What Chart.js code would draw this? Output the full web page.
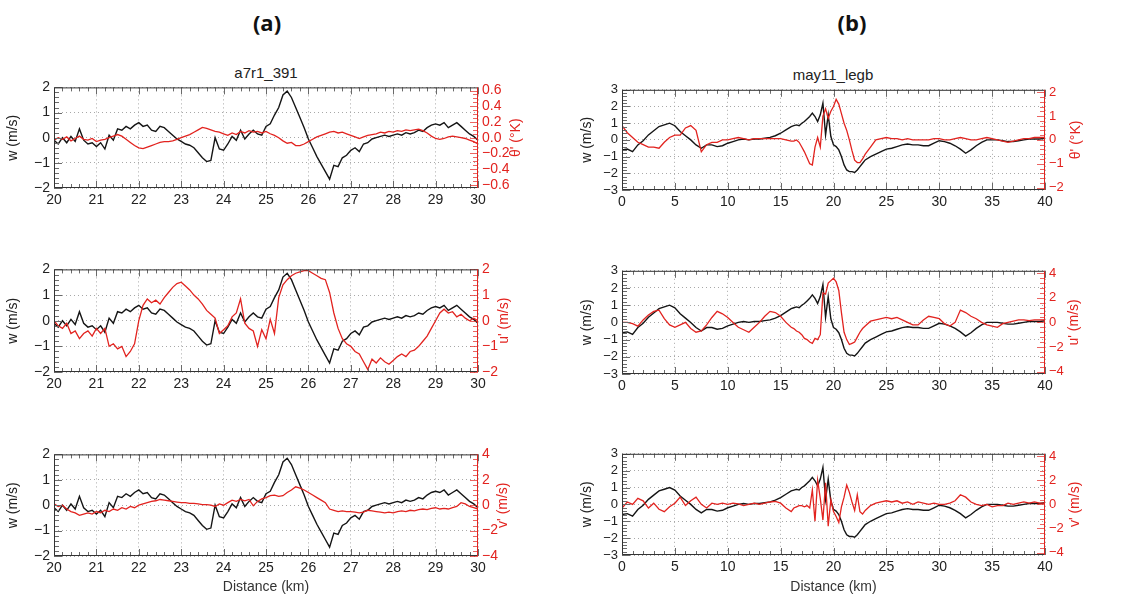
<!DOCTYPE html>
<html>
<head>
<meta charset="utf-8">
<script src="https://cdn.jsdelivr.net/npm/chart.js@4.4.1/dist/chart.umd.min.js"></script>
<style>
  body { margin: 0; width: 1133px; height: 598px; position: relative; overflow: hidden; background: #fff;
         font-family: "Liberation Sans", Arial, sans-serif; }
  canvas { position: absolute; }
  .lbl { position: absolute; transform: translateX(-50%); white-space: nowrap; color: #222; line-height: 18px; }
  .big { font-family: "Open Sans", sans-serif; font-weight: bold; font-size: 22px; line-height: 30px; color: #111; }
  .ttl { font-size: 15px; }
</style>
</head>
<body>
<div class="lbl big" style="left:267px;top:7px">(a)</div>
<div class="lbl big" style="left:852px;top:7px">(b)</div>
<div class="lbl ttl" style="left:266px;top:64px">a7r1_391</div>
<div class="lbl ttl" style="left:833px;top:66px">may11_legb</div>

<canvas id="a1"></canvas>
<canvas id="a2"></canvas>
<canvas id="a3"></canvas>
<canvas id="b1"></canvas>
<canvas id="b2"></canvas>
<canvas id="b3"></canvas>

<script>
// ---- (a) a7r1_391 : distance 20..30 km, one reading every 0.1 km
const distA = [];
for (let i = 0; i <= 100; i++) distA.push(20 + i / 10);

const wA = [-0.1,-0.25,0.0,-0.2,0.05,-0.15,0.35,-0.1,-0.25,-0.2,
  -0.35,-0.2,-0.45,0.1,-0.1,0.35,0.3,0.45,0.35,0.5,
  0.6,0.45,0.5,0.3,0.25,0.45,0.4,0.25,0.1,-0.05,
  -0.15,-0.25,-0.3,-0.4,-0.6,-0.8,-0.95,-0.9,0.0,-0.45,
  -0.5,-0.25,0.05,-0.1,0.3,-0.05,0.15,0.3,0.15,0.1,
  0.45,0.55,0.9,1.2,1.7,1.85,1.6,1.2,0.8,0.4,
  -0.05,-0.4,-0.75,-1.05,-1.35,-1.65,-1.1,-1.15,-0.8,-0.7,
  -0.5,-0.4,-0.55,-0.25,-0.2,-0.05,0.0,0.05,0.1,0.05,
  0.1,0.15,0.1,0.2,0.15,0.2,0.3,0.25,0.4,0.5,
  0.55,0.5,0.6,0.4,0.5,0.6,0.45,0.3,0.15,0.05,
  -0.1];

const thetaA = [-0.03,0.0,-0.02,0.01,-0.04,-0.01,0.02,-0.02,-0.03,-0.01,
  -0.05,-0.03,-0.02,0.0,0.02,0.04,0.02,-0.02,-0.06,-0.1,
  -0.13,-0.14,-0.12,-0.1,-0.08,-0.06,-0.05,-0.05,-0.04,-0.02,
  0.0,0.02,0.04,0.07,0.1,0.13,0.12,0.1,0.08,0.07,
  0.05,0.03,0.06,0.04,0.08,0.06,0.09,0.07,0.08,0.06,
  0.08,0.05,0.03,0.0,-0.04,-0.07,-0.06,-0.1,-0.1,-0.08,
  -0.05,-0.02,0.01,0.03,0.05,0.07,0.08,0.06,0.07,0.05,
  0.03,0.01,-0.01,0.01,0.03,0.04,0.05,0.07,0.06,0.08,
  0.07,0.09,0.08,0.1,0.09,0.1,0.11,0.09,0.06,0.02,
  -0.01,-0.02,-0.01,0.01,0.02,0.01,0.0,-0.01,-0.03,-0.05,
  -0.08];

const uA = [0.0,-0.2,-0.3,-0.1,-0.5,-0.4,-0.7,-0.5,-0.4,-0.6,
  -0.3,-0.5,-0.3,-1.0,-0.9,-1.1,-1.0,-1.4,-1.2,-0.9,
  0.0,0.6,0.85,0.7,0.8,0.65,0.9,1.1,1.3,1.45,
  1.5,1.35,1.2,1.0,0.85,0.65,0.4,0.25,0.1,-0.5,
  -0.35,-0.2,0.15,0.3,0.85,-0.1,-0.3,-0.4,-1.0,-0.35,
  -0.7,0.05,-0.5,0.9,1.4,1.6,1.75,1.85,1.9,1.95,
  1.95,1.85,1.75,1.65,1.6,1.1,0.3,-0.3,-0.7,-0.9,
  -1.0,-1.2,-1.3,-1.6,-1.9,-1.5,-1.65,-1.45,-1.6,-1.7,
  -1.55,-1.4,-1.3,-1.4,-1.2,-1.15,-1.0,-0.8,-0.6,-0.3,
  0.0,0.3,0.45,0.3,0.35,0.15,0.25,0.1,0.0,0.1,
  0.0];

const vA = [0.1,-0.1,0.0,-0.3,-0.5,-0.6,-0.8,-0.7,-0.6,-0.7,
  -0.5,-0.6,-0.4,-0.5,-0.3,-0.4,-0.2,-0.3,-0.1,-0.2,
  0.0,0.1,0.2,0.3,0.35,0.45,0.4,0.35,0.3,0.25,
  0.2,0.2,0.15,0.15,0.1,0.05,0.05,0.0,-0.1,0.1,
  0.0,0.2,0.4,0.3,0.45,0.35,0.45,-0.05,0.3,0.5,
  0.6,0.75,0.8,0.7,0.75,1.0,1.2,1.45,1.35,1.2,
  1.0,0.8,0.6,0.4,0.2,-0.3,-0.4,-0.5,-0.45,-0.5,
  -0.5,-0.55,-0.6,-0.55,-0.4,-0.45,-0.5,-0.55,-0.6,-0.55,
  -0.6,-0.5,-0.45,-0.5,-0.4,-0.45,-0.35,-0.3,-0.35,-0.25,
  -0.2,-0.3,-0.25,-0.3,-0.2,-0.1,0.2,0.1,-0.1,-0.2,
  -0.3];

// ---- (b) may11_legb : distance 0..40 km, denser readings round the jump near 20 km
const distB = [0,0.5,1,1.5,2,2.5,3,3.5,4,4.5,5,5.5,6,6.5,7,7.5,8,8.5,9,9.5,10,10.5,11,11.5,12,12.5,13,13.5,14,14.5,15,15.5,16,
  16.25,16.5,16.75,17,17.25,17.5,17.75,18,18.25,18.5,18.75,19,19.25,19.5,19.75,20,20.25,20.5,20.75,21,21.25,21.5,21.75,22,22.25,22.5,22.75,23,
  23.5,24,24.5,25,25.5,26,26.5,27,27.5,28,28.5,29,29.5,30,30.5,31,31.5,32,32.5,33,33.5,34,34.5,35,35.5,36,36.5,37,37.5,38,38.5,39,39.5,40];

const wB = [-0.6,-0.55,-0.7,-0.3,-0.05,0.3,0.55,0.8,0.9,1.0,0.85,0.5,0.25,0.0,-0.3,-0.5,-0.3,-0.3,-0.4,-0.35,-0.2,-0.1,0.0,0.05,0.0,0.05,0.05,0.1,0.15,0.25,0.4,0.6,0.8,
  0.85,0.9,0.85,1.0,1.1,1.25,1.4,1.6,1.4,1.1,1.5,2.2,0.3,1.5,0.2,-0.3,-0.4,-0.6,-1.0,-1.5,-1.8,-1.9,-1.9,-1.95,-1.8,-1.6,-1.4,-1.2,
  -1.0,-0.85,-0.7,-0.55,-0.5,-0.4,-0.3,-0.25,-0.3,-0.3,-0.35,-0.35,-0.2,-0.05,-0.1,-0.2,-0.35,-0.55,-0.8,-0.6,-0.35,-0.15,0.0,0.0,0.0,-0.05,-0.1,-0.1,-0.05,0.0,0.05,0.05,0.05,0.1];

const thetaB = [0.6,0.3,0.1,-0.1,-0.2,-0.3,-0.3,-0.35,-0.1,0.1,0.2,0.2,0.5,0.6,0.4,-0.5,-0.2,-0.1,-0.1,0.0,0.0,0.05,0.1,0.05,0.0,0.05,0.05,0.05,0.05,0.05,0.05,0.0,-0.05,
  -0.05,0.0,-0.1,-0.3,-0.5,-0.75,-1.0,-1.05,-0.3,0.1,-0.3,1.0,1.3,0.9,1.2,1.4,1.7,1.5,1.1,0.7,0.4,0.0,-0.45,-0.85,-0.95,-0.95,-0.8,-0.6,
  -0.3,0.0,0.05,0.1,0.05,0.05,0.0,0.05,0.0,0.0,0.0,0.0,0.05,0.05,0.0,0.0,0.05,0.1,0.05,0.0,0.0,0.05,0.1,0.05,0.0,-0.05,-0.1,-0.05,0.0,0.05,0.05,0.1,0.1,0.1];

const uB = [0.0,0.0,-0.1,-0.3,0.2,0.6,0.9,1.0,0.3,-0.2,-0.4,-0.2,0.0,-0.5,-0.8,-0.7,-0.2,0.4,0.9,0.7,0.4,0.0,-0.4,-0.6,-0.8,-0.4,0.0,0.5,0.9,0.8,0.5,0.0,-0.4,
  -0.5,-0.7,-0.8,-1.0,-1.3,-1.4,-1.6,-1.7,-1.3,-1.4,-1.0,2.4,2.3,3.2,3.4,3.6,3.3,2.6,0.8,-0.8,-1.4,-1.8,-1.7,-1.6,-1.2,-0.8,-0.5,-0.3,
  0.1,0.2,0.3,0.4,0.3,0.4,0.2,0.0,-0.2,-0.2,0.2,0.5,0.4,0.3,-0.1,-0.3,0.0,1.0,0.8,0.5,0.3,0.0,-0.2,-0.3,-0.4,-0.1,0.0,0.1,0.2,0.2,0.15,0.2,0.2,0.2];

const vB = [-0.3,0.2,0.0,0.5,0.3,-0.3,0.1,-0.4,-0.6,-0.2,0.1,0.6,-0.1,0.3,0.6,0.0,-0.3,0.1,0.0,0.1,0.0,0.1,0.05,-0.1,0.0,0.1,0.0,0.1,0.2,0.25,0.1,-0.3,-0.6,
  -0.3,-0.2,-0.1,-0.1,-0.2,-0.1,-0.3,1.2,-1.4,2.0,0.5,-1.3,1.8,-1.8,0.4,-0.6,-1.0,-1.5,-0.2,0.6,1.6,1.0,0.2,-0.5,0.8,-0.6,-0.8,-0.5,
  -0.1,0.1,0.2,0.3,0.2,0.3,0.1,0.2,0.0,0.2,0.1,0.0,0.1,0.0,0.0,0.1,0.3,0.8,0.6,0.2,0.0,-0.1,0.0,-0.2,-0.1,-0.1,0.1,0.0,0.1,0.2,0.1,0.2,0.1,0.1];

// ---- axis ticks
const xTicksA = [20,21,22,23,24,25,26,27,28,29,30];
const xTicksB = [0,5,10,15,20,25,30,35,40];
const wTicksA = [-2,-1,0,1,2];
const wTicksB = [-3,-2,-1,0,1,2,3];
const thetaTicksA = [-0.6,-0.4,-0.2,0,0.2,0.4,0.6];
const uTicksA = [-2,-1,0,1,2];
const v4Ticks = [-4,-2,0,2,4];
const thetaTicksB = [-2,-1,0,1,2];

const RED = '#e2231f';
const BLACK = '#151515';

Chart.defaults.font.family = '"Liberation Sans", Arial, sans-serif';

function fmtTick(dec) {
  return v => (dec ? v.toFixed(dec) : String(Math.round(v))).replace('-', '\u2212');
}

function stepValues(min, max, step) {
  const out = [];
  const start = Math.ceil(min / step - 1e-6);
  const end = Math.floor(max / step + 1e-6);
  for (let k = start; k <= end; k++) out.push(k * step);
  return out;
}

// IDL style frame: box, inward major/minor ticks, red right axis title
const framePlugin = {
  id: 'frame',
  afterDatasetsDraw(chart, args, opts) {
    const {ctx, chartArea: a} = chart;
    const sx = chart.scales.x, sy = chart.scales.y, sr = chart.scales.y1;
    const isMajor = (s, v) => s.ticks.some(t => Math.abs(t.value - v) < 1e-6);
    ctx.save();
    ctx.lineWidth = 1;

    ctx.strokeStyle = '#6a6a6a';
    ctx.beginPath();
    stepValues(sx.min, sx.max, opts.xMinor).forEach(v => {
      const p = Math.round(sx.getPixelForValue(v)) + 0.5;
      const len = isMajor(sx, v) ? 7 : 4;
      ctx.moveTo(p, a.bottom); ctx.lineTo(p, a.bottom - len);
      ctx.moveTo(p, a.top); ctx.lineTo(p, a.top + len);
    });
    stepValues(sy.min, sy.max, opts.yMinor).forEach(v => {
      const p = Math.round(sy.getPixelForValue(v)) + 0.5;
      const len = isMajor(sy, v) ? 8 : 5;
      ctx.moveTo(a.left, p); ctx.lineTo(a.left + len, p);
    });
    ctx.stroke();

    ctx.strokeStyle = 'rgba(226,35,31,0.7)';
    ctx.beginPath();
    stepValues(sr.min, sr.max, opts.rMinor).forEach(v => {
      const p = Math.round(sr.getPixelForValue(v)) + 0.5;
      const len = isMajor(sr, v) ? 8 : 5;
      ctx.moveTo(a.right, p); ctx.lineTo(a.right - len, p);
    });
    ctx.stroke();

    // box
    ctx.strokeStyle = '#333';
    ctx.beginPath();
    ctx.moveTo(a.right, a.top + 0.5); ctx.lineTo(a.left + 0.5, a.top + 0.5);
    ctx.lineTo(a.left + 0.5, a.bottom - 0.5); ctx.lineTo(a.right, a.bottom - 0.5);
    ctx.stroke();
    ctx.strokeStyle = RED;
    ctx.beginPath();
    ctx.moveTo(a.right - 0.5, a.top); ctx.lineTo(a.right - 0.5, a.bottom);
    ctx.stroke();

    // right axis title, read bottom to top like the left one
    ctx.translate(a.right + opts.rTitleGap, (a.top + a.bottom) / 2);
    ctx.rotate(-Math.PI / 2);
    ctx.font = '14px "Liberation Sans", Arial, sans-serif';
    ctx.fillStyle = RED;
    ctx.textAlign = 'center';
    ctx.textBaseline = 'middle';
    ctx.fillText(opts.rTitle, 0, 0);
    ctx.restore();
  }
};

const colA = { dist: distA, w: wA, xRange: [20, 30], xTicks: xTicksA, xMinor: 0.2,
  wRange: [-2, 2], wTicks: wTicksA, wMinor: 0.2, yFont: 14, yTitlePad: 5 };
const colB = { dist: distB, w: wB, xRange: [0, 40], xTicks: xTicksB, xMinor: 1,
  wRange: [-3, 3], wTicks: wTicksB, wMinor: 0.2, yFont: 13, yTitlePad: 19 };

const panels = [
  { id: 'a1', col: colA, box: {left: 0, top: 75, width: 560, height: 143, L: 54, R: 82, T: 10, B: 30},
    red: thetaA, rRange: [-0.64, 0.64], rTicks: thetaTicksA, rDec: 1, rMinor: 0.05, rTitle: "\u03b8' (\u00b0K)", rTitleGap: 38, xTitle: false },
  { id: 'a2', col: colA, box: {left: 0, top: 257, width: 560, height: 145, L: 54, R: 82, T: 10, B: 30},
    red: uA, rRange: [-2, 2], rTicks: uTicksA, rDec: 0, rMinor: 0.2, rTitle: "u' (m/s)", rTitleGap: 26, xTitle: false },
  { id: 'a3', col: colA, box: {left: 0, top: 442, width: 560, height: 156, L: 54, R: 82, T: 10, B: 42},
    red: vA, rRange: [-4, 4], rTicks: v4Ticks, rDec: 0, rMinor: 0.4, rTitle: "v' (m/s)", rTitleGap: 25, xTitle: true },
  { id: 'b1', col: colB, box: {left: 560, top: 78, width: 573, height: 142, L: 62, R: 88, T: 10, B: 30},
    red: thetaB, rRange: [-2.1, 2.1], rTicks: thetaTicksB, rDec: 0, rMinor: 0.2, rTitle: "\u03b8' (\u00b0K)", rTitleGap: 31, xTitle: false },
  { id: 'b2', col: colB, box: {left: 560, top: 259, width: 573, height: 145, L: 62, R: 88, T: 10, B: 30},
    red: uB, rRange: [-4.2, 4.2], rTicks: v4Ticks, rDec: 0, rMinor: 0.4, rTitle: "u' (m/s)", rTitleGap: 29, xTitle: false },
  { id: 'b3', col: colB, box: {left: 560, top: 442, width: 573, height: 156, L: 62, R: 88, T: 10, B: 43},
    red: vB, rRange: [-4.2, 4.2], rTicks: v4Ticks, rDec: 0, rMinor: 0.4, rTitle: "v' (m/s)", rTitleGap: 30, xTitle: true }
];

function toXY(xs, ys) {
  return xs.map((x, i) => ({ x: x, y: ys[i] }));
}

panels.forEach(p => {
  const c = p.col, b = p.box;
  const cv = document.getElementById(p.id);
  cv.width = b.width; cv.height = b.height;
  cv.style.left = b.left + 'px'; cv.style.top = b.top + 'px';

  new Chart(cv.getContext('2d'), {
    type: 'line',
    data: {
      datasets: [
        { label: 'w', data: toXY(c.dist, c.w), yAxisID: 'y', borderColor: BLACK, borderWidth: 1.4,
          pointRadius: 0, tension: 0, order: 2 },
        { label: p.rTitle, data: toXY(c.dist, p.red), yAxisID: 'y1', borderColor: RED, borderWidth: 1.3,
          pointRadius: 0, tension: 0, order: 1 }
      ]
    },
    options: {
      responsive: false,
      animation: false,
      layout: { padding: { top: b.T, left: 0, right: 0, bottom: 0 } },
      plugins: {
        legend: { display: false },
        tooltip: { enabled: false },
        frame: { xMinor: c.xMinor, yMinor: c.wMinor, rMinor: p.rMinor, rTitle: p.rTitle, rTitleGap: p.rTitleGap }
      },
      scales: {
        x: {
          type: 'linear', min: c.xRange[0], max: c.xRange[1],
          afterBuildTicks: s => { s.ticks = c.xTicks.map(v => ({ value: v })); },
          afterFit: s => { s.height = b.B; },
          grid: { color: '#a8a8a8', drawTicks: false },
          border: { display: false, dash: [1, 3] },
          ticks: { color: '#222', font: { size: 14 }, padding: 4, maxRotation: 0, autoSkip: false,
                   callback: fmtTick(0) },
          title: { display: p.xTitle, text: 'Distance (km)', color: '#333', font: { size: 14 },
                   padding: { top: 0, bottom: 2 } }
        },
        y: {
          position: 'left', min: c.wRange[0], max: c.wRange[1],
          afterBuildTicks: s => { s.ticks = c.wTicks.map(v => ({ value: v })); },
          afterFit: s => { s.width = b.L; },
          grid: { color: '#a8a8a8', drawTicks: false },
          border: { display: false, dash: [1, 3] },
          ticks: { color: '#222', font: { size: c.yFont }, padding: 4, autoSkip: false, callback: fmtTick(0) },
          title: { display: true, text: 'w (m/s)', color: '#222', font: { size: 14 },
                   padding: { top: c.yTitlePad, bottom: 0 } }
        },
        y1: {
          position: 'right', min: p.rRange[0], max: p.rRange[1],
          afterBuildTicks: s => { s.ticks = p.rTicks.map(v => ({ value: v })); },
          afterFit: s => { s.width = b.R; },
          grid: { drawOnChartArea: false, drawTicks: false },
          border: { display: false },
          ticks: { color: RED, font: { size: c.yFont }, padding: 4, autoSkip: false, callback: fmtTick(p.rDec) }
        }
      }
    },
    plugins: [framePlugin]
  });
});
</script>
</body>
</html>
